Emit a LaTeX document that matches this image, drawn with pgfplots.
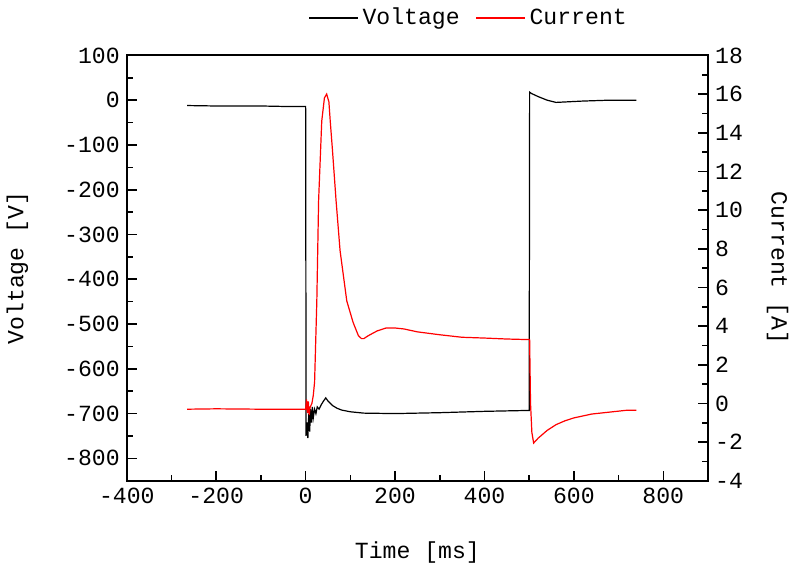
\documentclass[border=0pt]{standalone}
\usepackage{fontspec}
\setmainfont{Liberation Mono}
\usepackage{pgfplots}
\pgfplotsset{compat=1.18}
\newcommand{\tfont}{\fontsize{11.5}{13}\selectfont}
\begin{document}
\begin{tikzpicture}
\pgfplotsset{
  every axis/.append style={
    scale only axis, width=289pt, height=211.5pt,
    xmin=-400, xmax=900,
    tick align=inside,
    tick style={black, line width=0.8pt},
    major tick length=5pt, minor tick length=3pt,
    tick label style={font=\tfont},
    label style={font=\tfont},
    /pgf/number format/assume math mode=true,
    axis line style={line width=0.9pt},
  }
}
\begin{axis}[
  ymin=-850, ymax=100,
  ytick={-800,-700,...,100},
  minor ytick={-850,-750,...,50},
  xtick={-400,-200,...,800},
  minor xtick={-300,-100,...,900},
  xtick pos=bottom, ytick pos=left,
  xlabel={Time [ms]},
  ylabel={Voltage [V]},
  xlabel style={yshift=-12pt},
  ylabel style={yshift=11pt},
  legend style={draw=none, fill=none, at={(0.59,1.045)}, anchor=south, font=\tfont, legend columns=2,
    /tikz/every even column/.append style={column sep=6pt}},
  legend image code/.code={\draw[#1] (0cm,0cm) -- (0.85cm,0cm);},
]
\addplot[black, line width=0.6pt] coordinates {
(-265,-12) (-200,-13) (-100,-13) (-50,-14) (-2,-14) (0,-14) (1,-750) (3,-720) (5,-755) (7,-700) (9,-740) (11,-690) (13,-720) (15,-685) (17,-710) (20,-690) (23,-700) (26,-685) (30,-690) (35,-680) (40,-672) (45,-665) (50,-672) (60,-682) (70,-688) (80,-692) (100,-696) (130,-699) (200,-700) (300,-698) (400,-695) (498,-693) (500,-693) (501,18) (505,15) (520,8) (540,0) (560,-5) (580,-4) (620,-2) (680,0) (740,0)
};
\addlegendentry{Voltage}
\addlegendimage{red, line width=0.6pt}
\addlegendentry{Current}
\end{axis}
\begin{axis}[
  ymin=-4, ymax=18,
  ytick={-4,-2,...,18},
  minor ytick={-3,-1,...,17},
  axis x line=none,
  axis y line*=right,
  ytick pos=right,
  ylabel={Current [A]},
  ylabel style={rotate=180, yshift=5pt},
]
\addplot[red, line width=0.6pt] coordinates {
(-265,-0.3)(-200,-0.28)(-100,-0.3)(-2,-0.3)(0,-0.3)(2,0.2)(4,-0.5)(6,0.1)(8,-0.6)(10,-0.2)(14,0)(17,0.4)(20,1.1)(25,5.3)(29,10.5)(36,14.6)(42,15.8)(47,16)(52,15.6)(55,14.6)(60,13.1)(68,10.5)(77,7.9)(92,5.3)(106,4.2)(118,3.5)(125,3.35)(130,3.35)(140,3.5)(160,3.75)(180,3.9)(200,3.9)(220,3.85)(250,3.7)(300,3.55)(350,3.42)(400,3.38)(450,3.33)(499,3.3)(501,3.3)(503,0)(506,-1.5)(510,-2.05)(520,-1.8)(540,-1.4)(560,-1.1)(580,-0.9)(600,-0.75)(640,-0.55)(680,-0.45)(720,-0.35)(740,-0.35)
};
\end{axis}
\end{tikzpicture}
\end{document}
